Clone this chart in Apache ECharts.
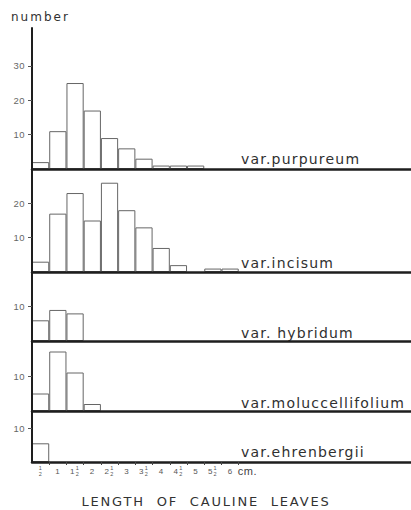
<!DOCTYPE html>
<html><head><meta charset="utf-8">
<script src="https://cdn.jsdelivr.net/npm/echarts@6/dist/echarts.min.js"></script>
<style>
html,body{margin:0;padding:0;background:#fff}
#c{width:411px;height:510px}
#c svg text{letter-spacing:0.5px}
#c svg text[fill="#303030"],#c svg text[fill="rgb(48,48,48)"]{letter-spacing:1.2px}
#c svg text[fill="#313131"],#c svg text[fill="rgb(49,49,49)"]{letter-spacing:2px}
#c svg text[fill="#323232"],#c svg text[fill="rgb(50,50,50)"]{letter-spacing:1.8px}
</style>
</head><body><div id="c"></div>
<script>
// ---- data ----
const binLabels = ['1/2','1','1 1/2','2','2 1/2','3','3 1/2','4','4 1/2','5','5 1/2','6'];
const unitLabel = 'cm.';
const purpureum = [2,11,25,17,9,6,3,1,1,1];
const incisum = [3,17,23,15,26,18,13,7,2,null,1,1];
const hybridum = [6,9,8];
const moluccellifolium = [5,17,11,2];
const ehrenbergii = [5.5];
const varNames = ['var.purpureum','var.incisum','var. hybridum','var.moluccellifolium','var.ehrenbergii'];
const yMax = [41,30,20,20,15];
const yTickValues = [[10,20,30],[10,20],[10],[10],[10]];
const xTitle = 'LENGTH  OF  CAULINE  LEAVES';
const yTitle = 'number';

// ---- layout ----
const panelTops = [28,169,272,341,411];
const panelBottoms = [169,272,341,411,462];
const labelMid = [159,262.5,332.5,402.5,452];
const seriesData = [purpureum,incisum,hybridum,moluccellifolium,ehrenbergii];
const NCAT = 22;
const cats = binLabels.concat([unitLabel]);
while (cats.length < NCAT) cats.push('_' + cats.length);

function fmt(s){
  if (s.charAt(0) === '_') return '';
  if (s === unitLabel) return '{e|\u00a0}\n{cm|cm.}\n{e|\u00a0}';
  const parts = s.split(' ');
  let whole = null, frac = false;
  parts.forEach(p => { if (p.indexOf('/') >= 0) frac = true; else whole = p; });
  if (frac && whole) return '{sp|\u00a0}{n|1}\n{w|' + whole + '}{sp2|\u00a0}\n{sp|\u00a0}{n|2}';
  if (frac) return '{n|1}\n{m|\u00a0}\n{n|2}';
  return '{e|\u00a0}\n{w|' + whole + '}\n{e|\u00a0}';
}

const LINE = '#1e1e1e';
const grids = [], xAxes = [], yAxes = [], series = [];
for (let i = 0; i < 5; i++) {
  const last = i === 4;
  grids.push({left: 32, right: 0, top: panelTops[i], height: panelBottoms[i] - panelTops[i], containLabel: false});
  xAxes.push({
    type: 'category', gridIndex: i, data: cats, boundaryGap: true, z: 5,
    axisLine: {show: true, onZero: false, lineStyle: {color: LINE, width: 2.5}},
    axisTick: {show: last, length: 3, interval: (idx) => idx >= 1 && idx <= 12, lineStyle: {color: '#444', width: 1}},
    axisLabel: last ? {
      show: true, interval: 0, margin: 3.5, color: '#555', formatter: fmt,
      fontFamily: 'Liberation Sans',
      rich: {
        n: {fontSize: 5.5, lineHeight: 5.5, width: 5, align: 'center', color: '#555', fontFamily: 'Liberation Sans'},
        w: {fontSize: 8, lineHeight: 0.1, width: 5, align: 'center', color: '#555', fontFamily: 'Liberation Sans'},
        sp: {fontSize: 5.5, lineHeight: 5.5, width: 5},
        sp2: {fontSize: 0.1, lineHeight: 0.1, width: 5},
        m: {fontSize: 0.1, lineHeight: 0.1, width: 5},
        e: {fontSize: 5.5, lineHeight: 5.5, width: 5},
        cm: {fontSize: 11, lineHeight: 0.1, color: '#444', fontFamily: 'Liberation Sans'}
      }
    } : {show: false},
    splitLine: {show: false}
  });
  yAxes.push({
    type: 'value', gridIndex: i, min: 0, max: yMax[i], z: 5,
    axisLine: {show: true, lineStyle: {color: LINE, width: 2}},
    axisTick: {show: true, inside: false, length: 4, customValues: yTickValues[i], lineStyle: {color: '#555', width: 1}},
    axisLabel: {show: true, margin: 7, customValues: yTickValues[i], color: '#666', fontSize: 9.5, fontFamily: 'Liberation Sans'},
    splitLine: {show: false}
  });
  series.push({
    type: 'bar', xAxisIndex: i, yAxisIndex: i, data: seriesData[i],
    barCategoryGap: '0%', barGap: '0%', z: 2,
    itemStyle: {color: '#ffffff', borderColor: '#666', borderWidth: 1},
    silent: true
  });
}

const graphic = [{type: 'text', x: 11, y: 16.5, style: {text: yTitle, font: '12px "DejaVu Sans"', fill: '#313131', verticalAlign: 'middle'}}];
varNames.forEach((t, i) => graphic.push({type: 'text', x: 241, y: labelMid[i], style: {text: t, font: '14px "DejaVu Sans"', fill: '#303030', verticalAlign: 'middle'}}));
graphic.push({type: 'text', x: 206, y: 501, style: {text: xTitle, font: '13px "DejaVu Sans"', fill: '#323232', align: 'center', verticalAlign: 'middle'}});

const chart = echarts.init(document.getElementById('c'), null, {renderer: 'svg'});
chart.setOption({
  animation: false,
  backgroundColor: '#fff',
  grid: grids, xAxis: xAxes, yAxis: yAxes, series: series, graphic: graphic
});
</script></body></html>
